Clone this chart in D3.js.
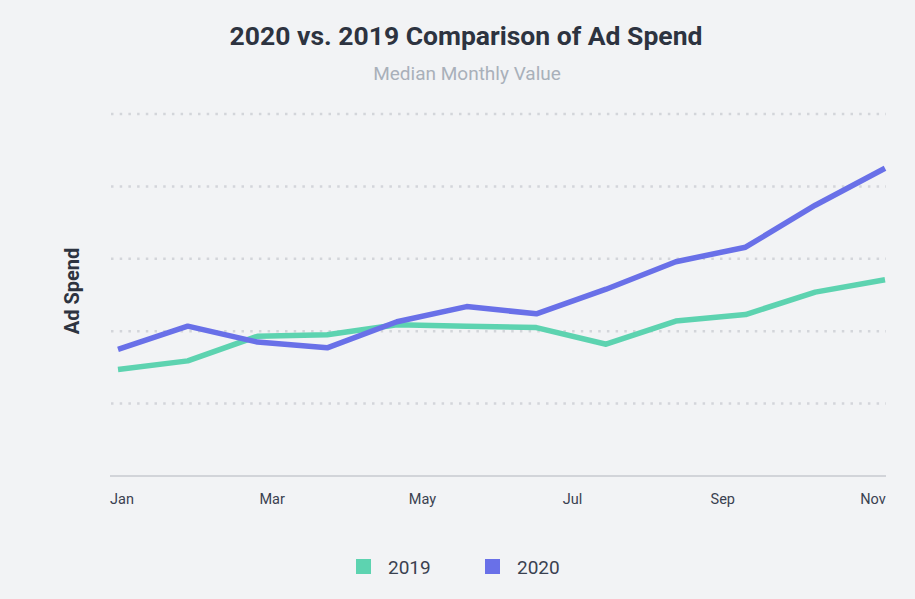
<!DOCTYPE html>
<html>
<head>
<meta charset="utf-8">
<script src="https://cdn.jsdelivr.net/npm/d3@7"></script>
<style>
  html, body { margin: 0; padding: 0; background: #f2f3f5; }
  svg { display: block; font-family: Roboto, "Noto Sans", sans-serif; }
</style>
</head>
<body>
<svg id="chart"></svg>
<script>
const months = ["Jan", "Feb", "Mar", "Apr", "May", "Jun", "Jul", "Aug", "Sep", "Oct", "Nov", "Dec"];
const spend2019 = [14.7, 15.9, 19.3, 19.5, 20.9, 20.7, 20.5, 18.2, 21.4, 22.3, 25.4, 27.1];
const spend2020 = [17.5, 20.7, 18.5, 17.7, 21.3, 23.4, 22.4, 25.8, 29.6, 31.6, 37.4, 42.5];
const tickLabels = ["Jan", "Mar", "May", "Jul", "Sep", "Nov"];
const gridValues = [10, 20, 30, 40, 50];
const seriesNames = ["2019", "2020"];
const colors = ["#5dd3b0", "#6970e8"];

const width = 915;
const height = 599;
const margin = { top: 114, right: 30, bottom: 123, left: 118 };

const svg = d3.select("#chart").attr("width", width).attr("height", height);

svg.append("rect")
  .attr("width", width)
  .attr("height", height)
  .attr("fill", "#f2f3f5");

const x = d3.scalePoint()
  .domain(months)
  .range([margin.left, width - margin.right]);

const y = d3.scaleLinear()
  .domain([0, 50])
  .range([height - margin.bottom, margin.top]);

const gridLeft = x.range()[0] - 7;
const gridRight = x.range()[1] + 1;

// dotted grid
svg.selectAll(".grid-line")
  .data(gridValues)
  .enter()
  .append("line")
  .attr("class", "grid-line")
  .attr("x1", gridLeft)
  .attr("x2", gridRight)
  .attr("y1", (d) => y(d))
  .attr("y2", (d) => y(d))
  .attr("stroke", "#d3d5da")
  .attr("stroke-width", 2.5)
  .attr("stroke-dasharray", "2.5,6.2");

// baseline
svg.append("line")
  .attr("x1", gridLeft - 1)
  .attr("x2", gridRight)
  .attr("y1", y(0))
  .attr("y2", y(0))
  .attr("stroke", "#d2d4d9")
  .attr("stroke-width", 2);

// x labels spread across the axis
const xLabel = d3.scalePoint()
  .domain(tickLabels)
  .range([margin.left + 4, width - margin.right - 12]);

svg.selectAll(".x-label")
  .data(tickLabels)
  .enter()
  .append("text")
  .attr("class", "x-label")
  .attr("x", (d) => xLabel(d))
  .attr("y", 504)
  .attr("text-anchor", "middle")
  .style("font-size", "14.5px")
  .style("fill", "#3a4150")
  .text((d) => d);

const line = d3.line()
  .x((d, i) => x(months[i]))
  .y((d) => y(d));

[spend2019, spend2020].forEach((values, i) => {
  svg.append("path")
    .datum(values)
    .attr("fill", "none")
    .attr("stroke", colors[i])
    .attr("stroke-width", 5.5)
    .attr("stroke-linejoin", "round")
    .attr("d", line);
});

// titles
svg.append("text")
  .attr("x", 466)
  .attr("y", 45)
  .attr("text-anchor", "middle")
  .style("font-size", "26.5px")
  .style("font-weight", "bold")
  .style("fill", "#2d3340")
  .text("2020 vs. 2019 Comparison of Ad Spend");

svg.append("text")
  .attr("x", 467)
  .attr("y", 80)
  .attr("text-anchor", "middle")
  .style("font-size", "19px")
  .style("fill", "#a9b0ba")
  .text("Median Monthly Value");

svg.append("text")
  .attr("transform", "translate(79,291) rotate(-90)")
  .attr("text-anchor", "middle")
  .style("font-size", "20px")
  .style("font-weight", "bold")
  .style("fill", "#2d3340")
  .text("Ad Spend");

// legend
const legend = svg.selectAll(".legend")
  .data(seriesNames)
  .enter()
  .append("g")
  .attr("class", "legend")
  .attr("transform", (d, i) => `translate(${356 + i * 129},559)`);

legend.append("rect")
  .attr("width", 15)
  .attr("height", 15)
  .attr("fill", (d, i) => colors[i]);

legend.append("text")
  .attr("x", 32)
  .attr("y", 14.5)
  .style("font-size", "19px")
  .style("fill", "#3a4150")
  .text((d) => d);
</script>
</body>
</html>
